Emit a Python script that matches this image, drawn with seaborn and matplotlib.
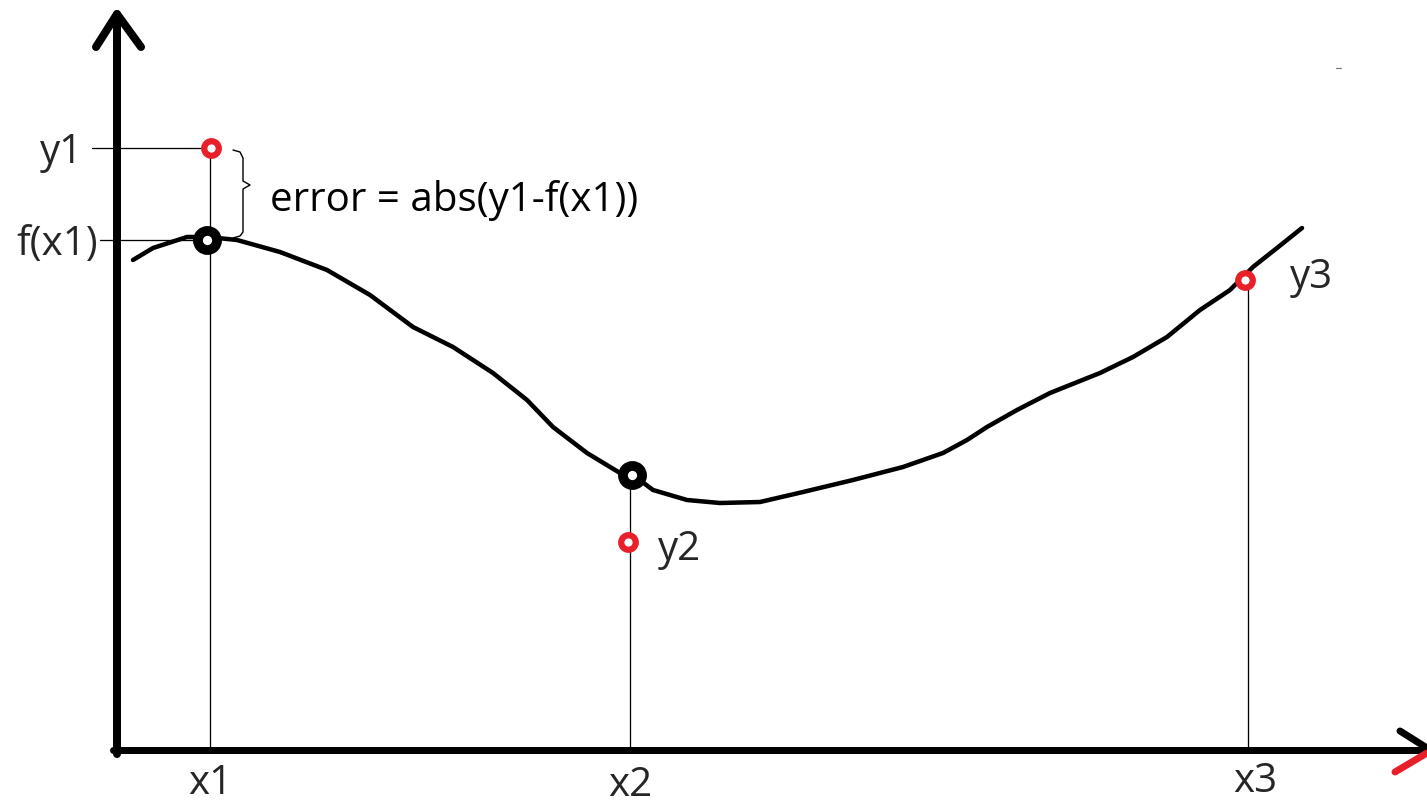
import numpy as np
import pandas as pd
import matplotlib
matplotlib.use("Agg")
import matplotlib.pyplot as plt
import seaborn as sns

# Hand-drawn model curve f(x), in canvas units (y grows downward)
curve_x = [133, 153, 187, 208, 237, 280, 327, 370, 413, 453, 493, 527, 553, 587,
           620, 633, 653, 687, 720, 760, 803, 853, 903, 943, 967, 987, 1017,
           1050, 1100, 1133, 1167, 1200, 1230, 1253, 1277, 1302]
curve_y = [260, 248, 237, 237, 240, 252, 270, 295, 327, 347, 373, 400, 427, 453,
           473, 475, 490, 500, 503, 502, 492, 480, 467, 453, 440, 427, 410,
           393, 373, 357, 337, 310, 290, 267, 248, 228]

# Sample positions and the observed / fitted values
sample_x = [210, 630, 1248]
sample_names = ["x1", "x2", "x3"]
observed_y = [148, 542, 280]
observed_names = ["y1", "y2", "y3"]
fitted_x = [207, 632]
fitted_y = [240, 475]

W, H = 1427, 805
AXIS_Y = 750
AXIS_X = 117

sns.set_theme(style="white")
plt.rcParams["font.family"] = ["Open Sans", "DejaVu Sans"]

fig = plt.figure(figsize=(W / 100, H / 100), dpi=100)
ax = fig.add_axes([0, 0, 1, 1])
ax.set_xlim(0, W)
ax.set_ylim(H, 0)
ax.axis("off")

px = 72 / 100  # pixels to points

# coordinate axes with open arrowheads
ax.plot([AXIS_X, AXIS_X], [AXIS_Y + 4, 14], color="black", lw=8 * px, solid_capstyle="round")
ax.plot([96, AXIS_X, 141], [47, 14, 47], color="black", lw=8 * px,
        solid_capstyle="round", solid_joinstyle="round")
ax.plot([113, W], [AXIS_Y, AXIS_Y], color="black", lw=7 * px)
ax.plot([1400, 1427], [731, 748], color="black", lw=7 * px, solid_capstyle="round")
ax.plot([1395, 1427], [772, 753], color="#e8202a", lw=7 * px, solid_capstyle="round")
ax.plot([1336, 1341], [68, 68], color="#777777", lw=1.2 * px)

# thin guide lines
for sx, oy in zip(sample_x, [observed_y[0], fitted_y[1], observed_y[2]]):
    ax.plot([sx, sx], [oy, AXIS_Y], color="black", lw=1.3 * px)
ax.plot([92, sample_x[0]], [observed_y[0], observed_y[0]], color="black", lw=1.3 * px)
ax.plot([100, fitted_x[0]], [fitted_y[0], fitted_y[0]], color="black", lw=1.3 * px)

# the curve
df_curve = pd.DataFrame({"x": curve_x, "y": curve_y})
sns.lineplot(data=df_curve, x="x", y="y", sort=False, color="black",
             lw=4.5 * px, ax=ax, solid_capstyle="round", solid_joinstyle="round")

# fitted points on the curve
df_fit = pd.DataFrame({"x": fitted_x, "y": fitted_y})
sns.scatterplot(data=df_fit, x="x", y="y", marker="o", s=190, color="white",
                edgecolor="black", linewidth=7, ax=ax, zorder=5)

# observed points
obs_x = [sample_x[0] + 1, sample_x[1] - 2, sample_x[2] - 3]
df_obs = pd.DataFrame({"x": obs_x, "y": observed_y})
sns.scatterplot(data=df_obs, x="x", y="y", marker="o", s=110, color="white",
                edgecolor="#e8202a", linewidth=4.5, ax=ax, zorder=5)

# brace marking the error
brace_x = [233, 240, 243, 243, 250, 243, 243, 240, 233]
brace_y = [150, 152, 158, 181, 185, 189, 232, 236, 238]
ax.plot(brace_x, brace_y, color="black", lw=1.4 * px, solid_joinstyle="round")

fs = 29
ax.text(270, 200, "error = abs(y1-f(x1))", fontsize=fs, va="center", ha="left", color="black")
ax.text(62, 153, observed_names[0], fontsize=fs, va="center", ha="center")
ax.text(57, 245, "f(x1)", fontsize=fs, va="center", ha="center")
ax.text(680, 550, observed_names[1], fontsize=fs, va="center", ha="center")
ax.text(1312, 278, observed_names[2], fontsize=fs, va="center", ha="center")
for sx, name, ty in zip(sample_x, sample_names, [784, 786, 782]):
    ax.text(sx + (7 if name == "x3" else 0), ty, name, fontsize=fs, va="center", ha="center")

fig.savefig("out.png", dpi=100)
